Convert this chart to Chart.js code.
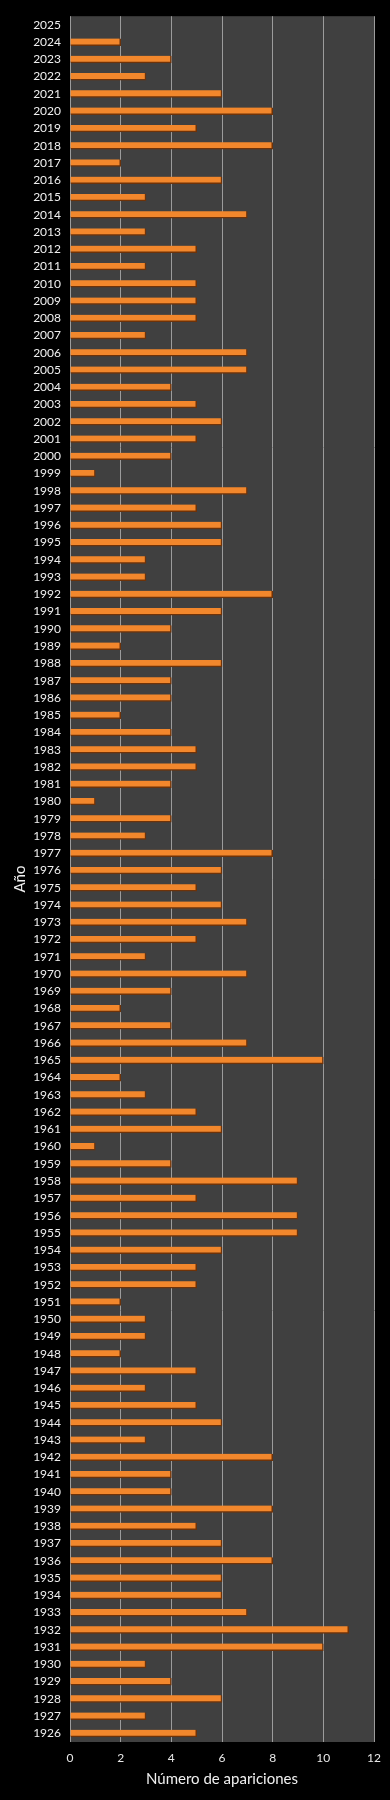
<!DOCTYPE html>
<html lang="es">
<head>
  <meta charset="UTF-8">
  <title>Apariciones por año</title>
  <script src="https://cdn.jsdelivr.net/npm/chart.js"></script>
  <style>
    body {
      margin: 0;
      background: #000;
    }
    #wrap {
      position: relative;
      width: 390px;
      height: 1800px;
    }
  </style>
</head>
<body>
  <div id="wrap"><canvas id="myChart"></canvas></div>

  <script>
    // years, top to bottom as in the picture
    const years = [
      "2025", "2024", "2023", "2022", "2021", "2020", "2019", "2018", "2017", "2016",
      "2015", "2014", "2013", "2012", "2011", "2010", "2009", "2008", "2007", "2006",
      "2005", "2004", "2003", "2002", "2001", "2000", "1999", "1998", "1997", "1996",
      "1995", "1994", "1993", "1992", "1991", "1990", "1989", "1988", "1987", "1986",
      "1985", "1984", "1983", "1982", "1981", "1980", "1979", "1978", "1977", "1976",
      "1975", "1974", "1973", "1972", "1971", "1970", "1969", "1968", "1967", "1966",
      "1965", "1964", "1963", "1962", "1961", "1960", "1959", "1958", "1957", "1956",
      "1955", "1954", "1953", "1952", "1951", "1950", "1949", "1948", "1947", "1946",
      "1945", "1944", "1943", "1942", "1941", "1940", "1939", "1938", "1937", "1936",
      "1935", "1934", "1933", "1932", "1931", "1930", "1929", "1928", "1927", "1926"
    ];

    const apariciones = [
      0, 2, 4, 3, 6, 8, 5, 8, 2, 6,
      3, 7, 3, 5, 3, 5, 5, 5, 3, 7,
      7, 4, 5, 6, 5, 4, 1, 7, 5, 6,
      6, 3, 3, 8, 6, 4, 2, 6, 4, 4,
      2, 4, 5, 5, 4, 1, 4, 3, 8, 6,
      5, 6, 7, 5, 3, 7, 4, 2, 4, 7,
      10, 2, 3, 5, 6, 1, 4, 9, 5, 9,
      9, 6, 5, 5, 2, 3, 3, 2, 5, 3,
      5, 6, 3, 8, 4, 4, 8, 5, 6, 8,
      6, 6, 7, 11, 10, 3, 4, 6, 3, 5
    ];

    const xTicks = [0, 2, 4, 6, 8, 10, 12];

    // dark grey plot area behind the bars
    const plotBg = {
      id: "plotBg",
      beforeDraw(chart) {
        const { ctx, chartArea } = chart;
        ctx.save();
        ctx.fillStyle = "#404040";
        ctx.fillRect(chartArea.left, chartArea.top,
          chartArea.right - chartArea.left, chartArea.bottom - chartArea.top);
        ctx.restore();
      }
    };

    const ctx = document.getElementById("myChart").getContext("2d");

    new Chart(ctx, {
      type: "bar",
      data: {
        labels: years,
        datasets: [{
          label: "Número de apariciones",
          data: apariciones,
          backgroundColor: "#f2872c",
          borderColor: "#6e3208",
          borderWidth: { top: 0, left: 0, right: 1.5, bottom: 1.5 },
          borderSkipped: false,
          barThickness: 7
        }]
      },
      options: {
        indexAxis: "y",
        responsive: true,
        maintainAspectRatio: false,
        animation: false,
        layout: { padding: { top: 14, right: 16, bottom: 0, left: 0 } },
        plugins: {
          legend: { display: false },
          tooltip: { enabled: false }
        },
        scales: {
          x: {
            min: 0,
            max: 12,
            afterBuildTicks(scale) {
              scale.ticks = xTicks.map(v => ({ value: v }));
            },
            afterFit(scale) { scale.height = 58; },
            grid: {
              color: "#9c9c9c",
              lineWidth: 1,
              drawTicks: false
            },
            border: { display: false },
            ticks: {
              color: "#e8e8e8",
              padding: 9,
              font: { family: "Lato", size: 12 }
            },
            title: {
              display: true,
              text: "Número de apariciones",
              color: "#f0f0f0",
              padding: { top: 4, bottom: 12 },
              font: { family: "Lato", size: 15 }
            }
          },
          y: {
            afterFit(scale) { scale.width = 70; },
            grid: { display: false, drawTicks: false },
            border: { display: false },
            ticks: {
              color: "#f0f0f0",
              padding: 9,
              autoSkip: false,
              font: { family: "Lato", size: 12 }
            },
            title: {
              display: true,
              text: "Año",
              color: "#f0f0f0",
              padding: { top: 11, bottom: 4 },
              font: { family: "Lato", size: 15 }
            }
          }
        }
      },
      plugins: [plotBg]
    });
  </script>
</body>
</html>
